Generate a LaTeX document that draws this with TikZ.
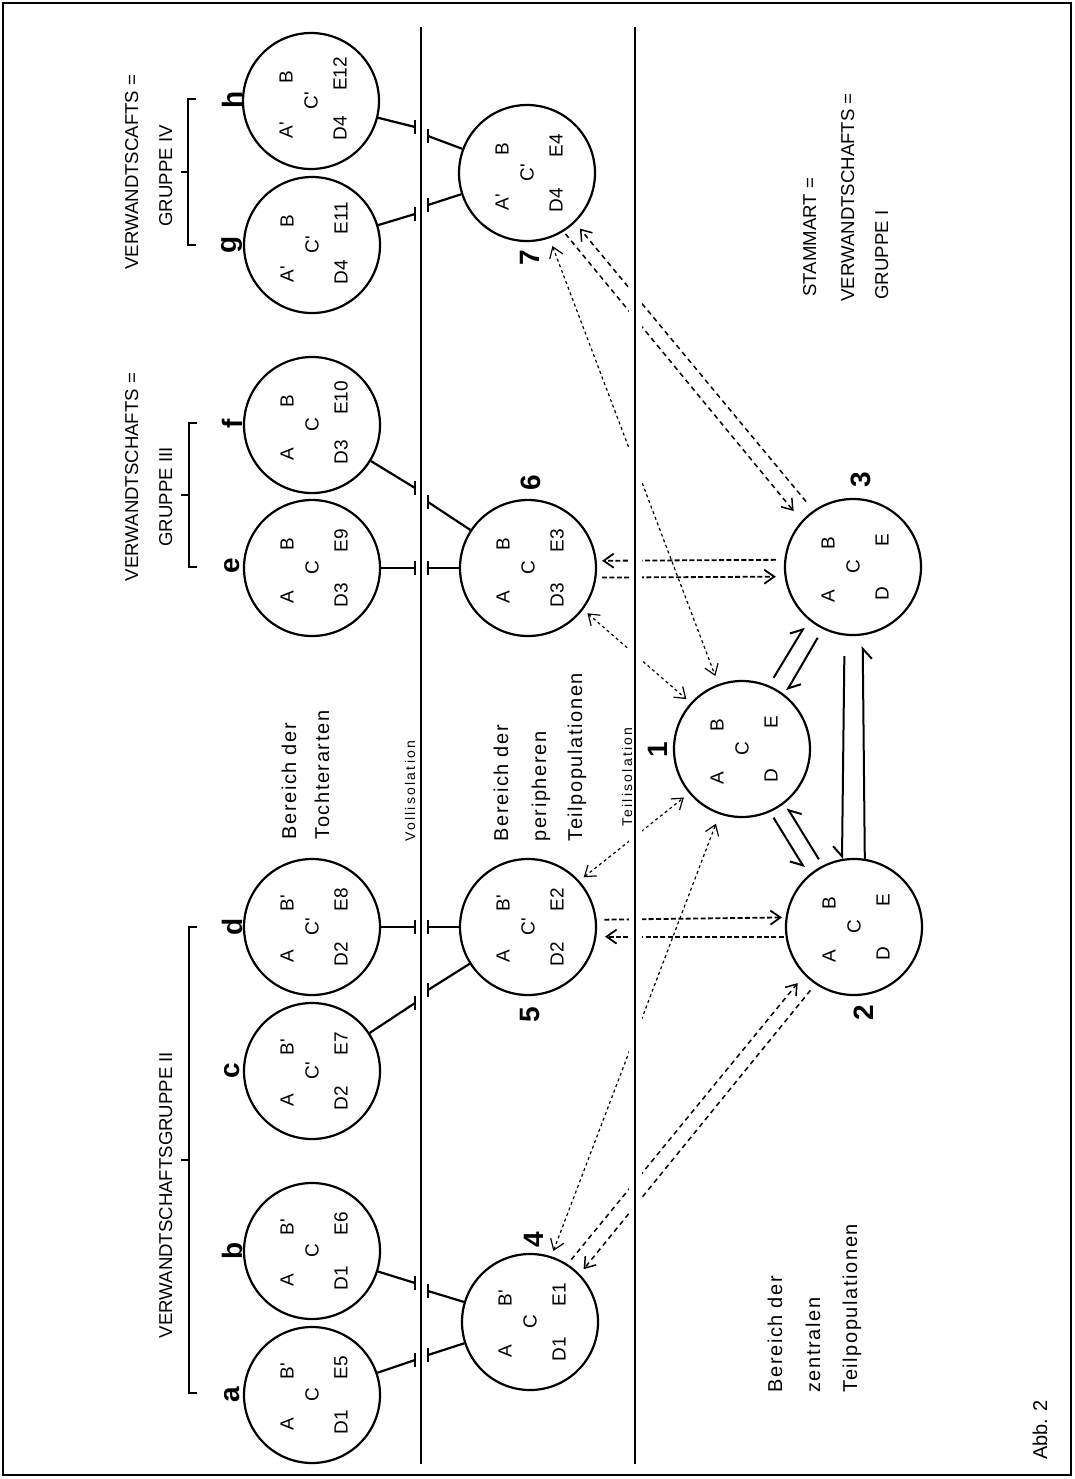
\documentclass[tikz,border=0pt]{standalone}
\usepackage{fontspec}
\setmainfont{Liberation Sans}
\newfontfamily\spc[LetterSpace=8]{Liberation Sans}
\newfontfamily\spcs[LetterSpace=16]{Liberation Sans}
\usetikzlibrary{arrows.meta,calc}
\newcommand\prm{\textquotesingle}
\newcommand\popnode[8]{%
  \node[circ] (#1) at (#2,#3) {};
  \node[ct] (#1A) at ($(#1)+(-25,29)$) {#4};
  \node[ct] (#1B) at ($(#1)+(-25,-24)$) {#5};
  \node[ct] (#1C) at (#1) {#6};
  \node[ct] (#1D) at ($(#1)+(29,27)$) {#7};
  \node[ct] (#1E) at ($(#1)+(29,-27)$) {#8};}
\newcommand\teeline[2]{%
  \draw[tee] (#1) -- (#2);
  \draw[tee] ($(#2)+(0,-7)$) -- ($(#2)+(0,7)$);}
\begin{document}
\begin{tikzpicture}[x=0.5pt,y=-0.5pt,
  circ/.style={circle,draw,line width=1.1pt,minimum size=68pt,inner sep=0pt},
  ct/.style={rotate=90,inner sep=0pt,font=\fontsize{9.5}{11}\selectfont},
  numl/.style={rotate=90,inner sep=0pt,font=\bfseries\fontsize{14}{14}\selectfont},
  lbl/.style={rotate=90,anchor=base west,inner sep=0pt,font=\spc\fontsize{10}{12}\selectfont},
  lbls/.style={rotate=90,anchor=base west,inner sep=0pt,font=\spcs\fontsize{7}{8}\selectfont},
  capl/.style={rotate=90,anchor=base,inner sep=0pt,font=\fontsize{9.3}{11}\selectfont},
  capw/.style={rotate=90,anchor=base west,inner sep=0pt,font=\fontsize{9.3}{11}\selectfont},
  tee/.style={line width=1.1pt},
  brk/.style={line width=1.1pt},
  dotl/.style={line width=0.6pt,dash pattern=on 1.5pt off 1.5pt},
  dshl/.style={line width=0.75pt,dash pattern=on 2.5pt off 2pt},
  hvl/.style={line width=0.9pt,dash pattern=on 2.5pt off 1.2pt},
  >={Straight Barb[length=5pt,width=7pt]},
  hp/.style={line width=1pt,-{Straight Barb[harpoon,length=5pt,width=9pt]}},
  hps/.style={line width=1pt,-{Straight Barb[harpoon,swap,length=5pt,width=9pt]}}
]
\useasboundingbox (0,0) rectangle (1075,1479);
\draw[line width=0.9pt] (3,3) rectangle (1071,1475);

% daughter species
\popnode{sa}{312}{1395}{A}{B\prm}{C}{D1}{E5}
\popnode{sb}{312}{1251}{A}{B\prm}{C}{D1}{E6}
\popnode{sc}{312}{1071}{A}{B\prm}{C\prm}{D2}{E7}
\popnode{sd}{312}{927}{A}{B\prm}{C\prm}{D2}{E8}
\popnode{se}{312}{568}{A}{B}{C}{D3}{E9}
\popnode{sf}{312}{425}{A}{B}{C}{D3}{E10}
\popnode{sg}{312}{245}{A\prm}{B}{C\prm}{D4}{E11}
\popnode{sh}{311}{101}{A\prm}{B}{C\prm}{D4}{E12}
% peripheral
\popnode{p4}{530}{1322}{A}{B\prm}{C}{D1}{E1}
\popnode{p5}{528}{927}{A}{B\prm}{C\prm}{D2}{E2}
\popnode{p6}{528}{568}{A}{B}{C}{D3}{E3}
\popnode{p7}{527}{173}{A\prm}{B}{C\prm}{D4}{E4}
% central
\popnode{p1}{742}{749}{A}{B}{C}{D}{E}
\popnode{p2}{854}{927}{A}{B}{C}{D}{E}
\popnode{p3}{853}{567}{A}{B}{C}{D}{E}

% letters and numbers
\node[numl] (la) at (232,1395) {a};
\node[numl] (lb) at (232,1251) {b};
\node[numl] (lc) at (232,1071) {c};
\node[numl] (ld) at (232,927) {d};
\node[numl] (le) at (232,566) {e};
\node[numl] (lf) at (232,424) {f};
\node[numl] (lg) at (232,245) {g};
\node[numl] (lh) at (232,100) {h};
\node[numl] (n7) at (530,258) {7};
\node[numl] (n6) at (531,483) {6};
\node[numl] (n5) at (530,1015) {5};
\node[numl] (n4) at (534,1240) {4};
\node[numl] (n1) at (658,750) {1};
\node[numl] (n3) at (861,480) {3};
\node[numl] (n2) at (864,1013) {2};

% tee connectors
\coordinate (ta) at (415,1360);
\coordinate (tb) at (415,1283);
\coordinate (tc) at (415,1003);
\coordinate (td) at (415,927);
\coordinate (te) at (415,568);
\coordinate (tf) at (415,488);
\coordinate (tg) at (415,214);
\coordinate (th) at (415,127);
\coordinate (t4a) at (428,1291);
\coordinate (t4b) at (428,1355);
\coordinate (t5a) at (428,927);
\coordinate (t5b) at (428,990);
\coordinate (t6a) at (428,568);
\coordinate (t6b) at (428,502);
\coordinate (t7a) at (428,136);
\coordinate (t7b) at (428,205);
\teeline{sa}{ta}
\teeline{sb}{tb}
\teeline{sc}{tc}
\teeline{sd}{td}
\teeline{se}{te}
\teeline{sf}{tf}
\teeline{sg}{tg}
\teeline{sh}{th}
\teeline{p4}{t4a}
\teeline{p4}{t4b}
\teeline{p5}{t5a}
\teeline{p5}{t5b}
\teeline{p6}{t6a}
\teeline{p6}{t6b}
\teeline{p7}{t7a}
\teeline{p7}{t7b}

% dashed exchange lines
\draw[dotl,<->,shorten <=4.1pt,shorten >=4.3pt] (p7.289) -- (p1.110);
\draw[dshl,->,shorten <=1.5pt,shorten >=6.3pt] (p7.302) -- (p3.138);
\draw[dshl,->,shorten <=5.8pt,shorten >=3.8pt] (p3.125) -- (p7.314.5);
\draw[dotl,<->,shorten <=2.8pt,shorten >=2.8pt] (p6.323) -- (p1.138);
\draw[dotl,<->,shorten <=2.8pt,shorten >=3.3pt] (p5.42) -- (p1.220);
\draw[dotl,<->,shorten <=2.8pt,shorten >=5pt] (p4.72) -- (p1.251);
\draw[dshl,->,shorten <=2.9pt,shorten >=5.2pt] (p4.57) -- (p2.224.5);
\draw[dshl,->,shorten <=3.9pt,shorten >=3.1pt] (p2.236) -- (p4.44.5);
\draw[hvl,->,shorten <=4.2pt,shorten >=2.7pt] (p3.174.7) -- (p6.6.3);
\draw[hvl,->,shorten <=2.8pt,shorten >=4.4pt] (p6.352.2) -- (p3.188.2);
\draw[hvl,->,shorten <=3.8pt,shorten >=1.8pt] (p5.6.8) -- (p2.172.8);
\draw[hvl,->,shorten <=0.9pt,shorten >=4.3pt] (p2.188.2) -- (p5.352.5);

% gap at the partial isolation line
\fill[white] (629,150) rectangle (642,1320);

% isolation lines
\draw[line width=1pt] (421,27) -- (421,1464);
\draw[line width=0.85pt] (635,27) -- (635,1464);

% solid gene-flow harpoons
\draw[hp,shorten <=4.5pt,shorten >=4.3pt] (p1.67) -- (p3.230);
\draw[hp,shorten <=5pt,shorten >=2.3pt] (p3.244) -- (p1.52);
\draw[hps,shorten <=3.2pt,shorten >=4.3pt] (p1.294) -- (p2.131);
\draw[hps,shorten <=3.6pt,shorten >=2.7pt] (p2.117) -- (p1.308);
\draw[hps,shorten <=10.3pt] (p3.263) -- (p2.100);
\draw[hps,shorten >=5.4pt] (p2.81) -- (p3.278);

% brackets
\draw[brk] (197,927) -- (189,927) -- (189,1393) -- (197,1393);
\draw[brk] (189,1160) -- (181,1160);
\draw[brk] (197,423) -- (189,423) -- (189,567) -- (197,567);
\draw[brk] (189,495) -- (181,495);
\draw[brk] (196,99) -- (188,99) -- (188,245) -- (196,245);
\draw[brk] (188,172) -- (181,172);

% group labels
\node[capl] (g2) at (172,1195) {VERWANDTSCHAFTSGRUPPE II};
\node[capl] (g3a) at (138,477) {VERWANDTSCHAFTS =};
\node[capl] (g3b) at (172,497) {GRUPPE III};
\node[capl] (g4a) at (138,172) {VERWANDTSCAFTS =};
\node[capl] (g4b) at (172,176) {GRUPPE IV};
\node[capw] (s1) at (816,297) {STAMMART =};
\node[capw] (s2) at (854,302) {VERWANDTSCHAFTS =};
\node[capw] (s3) at (888,300) {GRUPPE I};

% area labels
\node[lbl] (r1a) at (296,840) {Bereich der};
\node[lbl] (r1b) at (329,840) {Tochterarten};
\node[lbl] (r2a) at (508,842) {Bereich der};
\node[lbl] (r2b) at (546,842) {peripheren};
\node[lbl] (r2c) at (582,842) {Teilpopulationen};
\node[lbl] (r3a) at (782,1393) {Bereich der};
\node[lbl] (r3b) at (820,1393) {zentralen};
\node[lbl] (r3c) at (857,1393) {Teilpopulationen};
\node[lbls] (vi) at (415,842) {Vollisolation};
\node[lbls] (ti) at (632,827) {Teilisolation};
\node[rotate=90,anchor=base west,inner sep=0pt,font=\fontsize{10}{12}\selectfont] (abb) at (1047,1460) {Abb. 2};
\end{tikzpicture}
\end{document}
